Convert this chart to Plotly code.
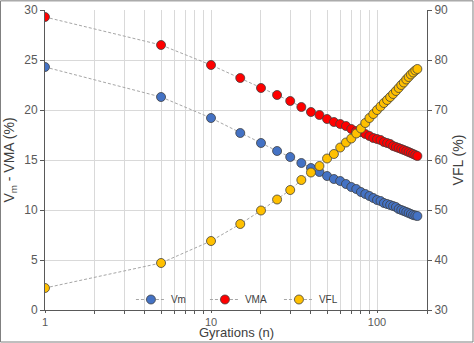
import plotly.graph_objects as go

gyrations = [1, 5, 10, 15, 20, 25, 30, 35, 40, 45, 50, 55, 60, 65, 70, 75, 80, 85, 90, 95,
             100, 105, 110, 115, 120, 125, 130, 135, 140, 145, 150, 155, 160, 165, 170, 175]
vm = [24.3, 21.3, 19.2, 17.7, 16.7, 15.9, 15.3, 14.7, 14.2, 13.8, 13.4, 13.1, 12.9, 12.6, 12.3,
      12.1, 11.8, 11.6, 11.4, 11.2, 11.0, 10.9, 10.7, 10.6, 10.5, 10.4, 10.3, 10.1, 10.0, 9.9,
      9.8, 9.7, 9.6, 9.5, 9.45, 9.4]
vma = [29.3, 26.5, 24.5, 23.2, 22.2, 21.5, 20.9, 20.3, 19.8, 19.5, 19.1, 18.8, 18.6, 18.4, 18.1,
       17.9, 17.8, 17.6, 17.4, 17.2, 17.1, 17.0, 16.8, 16.7, 16.6, 16.4, 16.3, 16.2, 16.1, 16.0,
       15.9, 15.8, 15.7, 15.6, 15.5, 15.4]
vfl = [34.4, 39.4, 43.8, 47.2, 49.9, 52.1, 54.0, 56.0, 57.5, 58.8, 60.3, 61.2, 62.5, 63.5, 64.3,
       65.3, 66.3, 67.4, 68.4, 69.2, 70.0, 70.7, 71.4, 72.0, 72.6, 73.2, 73.8, 74.4, 75.0, 75.5,
       76.1, 76.6, 77.1, 77.5, 77.9, 78.2]

x_major = [1, 10, 100]
x_minor = [2, 3, 4, 5, 6, 7, 8, 9, 20, 30, 40, 50, 60, 70, 80, 90, 200]

line_style = dict(color="#A6A6A6", width=1, dash="3px,2px")

def trace(name, y, color, axis):
    return go.Scatter(
        x=gyrations, y=y, name=name, yaxis=axis, mode="lines+markers",
        line=line_style,
        marker=dict(size=9, color=color, line=dict(color="#404040", width=0.8)),
    )

fig = go.Figure([
    trace("Vm", vm, "#4472C4", "y"),
    trace("VMA", vma, "#FF0000", "y"),
    trace("VFL", vfl, "#FFC000", "y2"),
])

font = "Liberation Sans, Arial, sans-serif"
tickfont = dict(family=font, size=12, color="#595959")
xtickfont = dict(family=font, size=11, color="#595959")
titlefont = dict(family=font, size=14, color="#404040")
xtitlefont = dict(family=font, size=13, color="#404040")

fig.update_layout(
    width=474, height=343,
    margin=dict(l=45, r=47, t=10, b=33),
    paper_bgcolor="white", plot_bgcolor="white",
    showlegend=True,
    legend=dict(orientation="h", x=0.225, xanchor="left", y=0.035, yanchor="middle",
                font=dict(family=font, size=10, color="#404040"),
                bgcolor="rgba(0,0,0,0)", entrywidth=29, itemwidth=30),
    xaxis=dict(type="log", range=[0, 2.30103], tickvals=x_major, ticktext=["1", "10", "100"],
               automargin=False,
               showgrid=True, gridcolor="#D9D9D9", gridwidth=1,
               showline=True, linecolor="#595959", linewidth=1,
               ticks="outside", ticklen=2, tickcolor="#595959", tickfont=xtickfont,
               minor=dict(tickvals=x_minor, showgrid=True, gridcolor="#D9D9D9", gridwidth=1,
                          ticks="outside", ticklen=3, tickcolor="#595959"),
               zeroline=False),
    yaxis=dict(range=[0, 30], dtick=5, showgrid=True, gridcolor="#D9D9D9",
               automargin=False,
               showline=True, linecolor="#595959", linewidth=1,
               ticks="outside", ticklen=4, tickcolor="#595959", tickfont=tickfont,
               title=dict(text="V<sub>m</sub> - VMA (%)", font=titlefont, standoff=6),
               zeroline=False),
    yaxis2=dict(range=[30, 90], dtick=10, overlaying="y", side="right", showgrid=False,
                automargin=False,
                showline=True, linecolor="#595959", linewidth=1,
                ticks="outside", ticklen=4, tickcolor="#595959", tickfont=tickfont,
                title=dict(text="VFL (%)", font=titlefont, standoff=6),
                zeroline=False),
    annotations=[dict(text="Gyrations (n)", xref="paper", yref="paper", x=0.5, y=0,
                      xanchor="center", yanchor="bottom", yshift=-31, showarrow=False,
                      borderpad=0, font=xtitlefont)],
    shapes=[dict(type="rect", xref="paper", yref="paper",
                 x0=-0.1165, x1=1.1204, y0=-0.1067, y1=1.0305,
                 line=dict(color="#7F7F7F", width=1), fillcolor="rgba(0,0,0,0)", layer="below")],
)

fig.write_html("out.html")
